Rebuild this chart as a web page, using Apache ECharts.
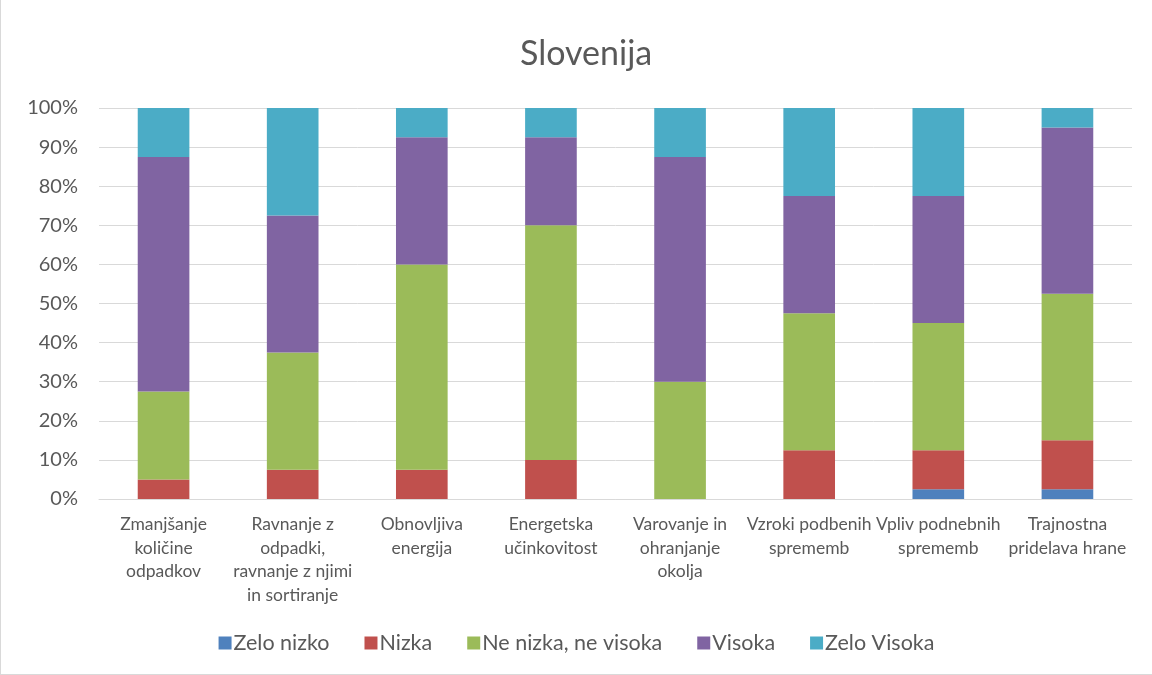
<!DOCTYPE html>
<html>
<head>
<meta charset="utf-8">
<script src="https://cdn.jsdelivr.net/npm/echarts@6/dist/echarts.min.js"></script>
<style>
  html, body { margin: 0; padding: 0; background: #fff; }
  #chart { width: 1152px; height: 675px; box-sizing: border-box; border-left: 1px solid #d9d9d9; border-bottom: 1px solid #d9d9d9; }
</style>
</head>
<body>
<div id="chart"></div>
<script>
// kategorije (z ročnimi prelomi vrstic kot na sliki)
const categories = [
    'Zmanjšanje\nkoličine\nodpadkov',
    'Ravnanje z\nodpadki,\nravnanje z njimi\nin sortiranje',
    'Obnovljiva\nenergija',
    'Energetska\nučinkovitost',
    'Varovanje in\nohranjanje\nokolja',
    'Vzroki podbenih\nsprememb',
    'Vpliv podnebnih\nsprememb',
    'Trajnostna\npridelava hrane'
];
const seriesNames = ['Zelo nizko', 'Nizka', 'Ne nizka, ne visoka', 'Visoka', 'Zelo Visoka'];
const zeloNizko  = [0, 0, 0, 0, 0, 0, 2.5, 2.5];
const nizka      = [5, 7.5, 7.5, 10, 0, 12.5, 10, 12.5];
const neNizka    = [22.5, 30, 52.5, 60, 30, 35, 32.5, 37.5];
const visoka     = [60, 35, 32.5, 22.5, 57.5, 30, 32.5, 42.5];
const zeloVisoka = [12.5, 27.5, 7.5, 7.5, 12.5, 22.5, 22.5, 5];
const yTicks = [0, 10, 20, 30, 40, 50, 60, 70, 80, 90, 100];

const colors = ['#4f81bd', '#c0504d', '#9bbb59', '#8064a2', '#4bacc6'];
const values = [zeloNizko, nizka, neNizka, visoka, zeloVisoka];
const font = 'Lato, "Liberation Sans", sans-serif';

const chart = echarts.init(document.getElementById('chart'));
chart.setOption({
    animation: false,
    color: colors,
    title: {
        text: 'Slovenija',
        left: 514,
        top: 32,
        textStyle: { fontFamily: font, fontSize: 34, fontWeight: 'normal', color: '#595959' }
    },
    grid: { left: 98, right: 20, top: 108, bottom: 175 },
    legend: {
        bottom: 15,
        left: 'center',
        itemWidth: 13,
        itemHeight: 13,
        itemGap: 35,
        icon: 'rect',
        textStyle: { fontFamily: font, fontSize: 21.5, color: '#595959', padding: [0, 0, 0, -3] },
        data: seriesNames
    },
    xAxis: {
        type: 'category',
        data: categories,
        axisLine: { lineStyle: { color: '#d9d9d9' } },
        axisTick: { show: false },
        axisLabel: { interval: 0, fontFamily: font, fontSize: 17.5, color: '#595959', lineHeight: 23.5, margin: 14 }
    },
    yAxis: {
        type: 'value',
        min: yTicks[0],
        max: yTicks[yTicks.length - 1],
        interval: 10,
        axisLine: { show: false },
        axisTick: { show: false },
        splitLine: { lineStyle: { color: '#d9d9d9', width: 1 } },
        axisLabel: { fontFamily: font, fontSize: 20, color: '#595959', margin: 21, formatter: v => v + '%' }
    },
    series: seriesNames.map((name, i) => ({
        name: name,
        type: 'bar',
        stack: 'total',
        barWidth: '40%',
        data: values[i]
    }))
});
</script>
</body>
</html>
